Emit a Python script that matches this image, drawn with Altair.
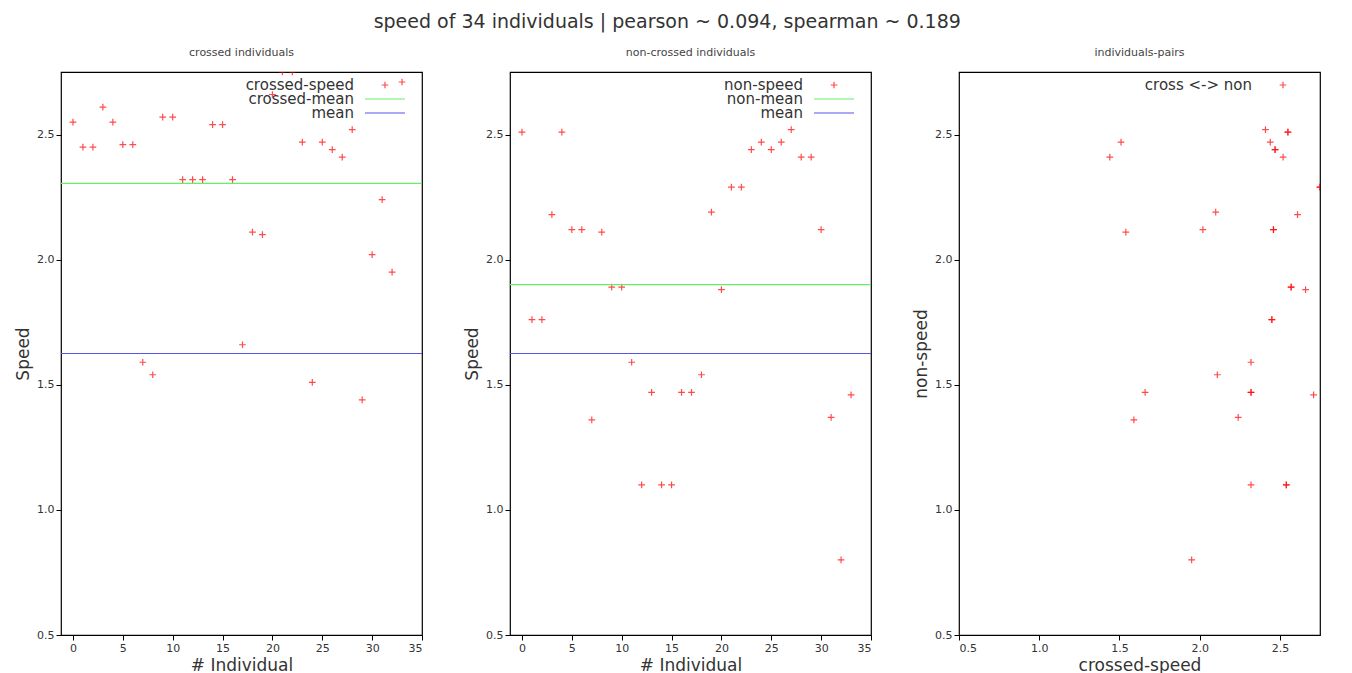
import altair as alt
import pandas as pd

crossed = [2.55,2.45,2.45,2.61,2.55,2.46,2.46,1.59,1.54,2.57,2.57,2.32,2.32,2.32,2.54,2.54,2.32,1.66,2.11,2.10,
           2.66,2.75,2.75,2.47,1.51,2.47,2.44,2.41,2.52,1.44,2.02,2.24,1.95,2.71]
non = [2.51,1.76,1.76,2.18,2.51,2.12,2.12,1.36,2.11,1.89,1.89,1.59,1.10,1.47,1.10,1.10,1.47,1.47,1.54,2.19,
       1.88,2.29,2.29,2.44,2.47,2.44,2.47,2.52,2.41,2.41,2.12,1.37,0.80,1.46]
crossed_mean = 2.305
non_mean = 1.90
overall_mean = 1.625

df = pd.DataFrame({"idx": list(range(len(crossed))), "crossed": crossed, "non": non})
W, H = 361, 563
plus = "M-1,0L1,0M0,-1L0,1"
pt = dict(shape=plus, filled=False, stroke="red", strokeWidth=1.2, size=45, clip=True)
yticks = [0.5, 1, 1.5, 2, 2.5]
ysc = alt.Scale(domain=[0.5, 2.75], nice=False, zero=False)
xsc = alt.Scale(domain=[-1.2, 35], nice=False, zero=False)

def legend(items):
    layers = []
    for i, (label, kind, color) in enumerate(items):
        y = 13 + i * 14
        layers.append(alt.Chart(df.head(1)).mark_text(align="right", baseline="middle", fontSize=15, color="#333", font="DejaVu Sans").encode(
            x=alt.value(W - 68), y=alt.value(y), text=alt.value(label)))
        if kind == "pt":
            layers.append(alt.Chart(df.head(1)).mark_point(**pt).encode(x=alt.value(W - 37), y=alt.value(y)))
        elif kind == "line":
            layers.append(alt.Chart(df.head(1)).mark_rule(color=color, strokeWidth=1.2).encode(
                x=alt.value(W - 57), x2=alt.value(W - 17), y=alt.value(y)))
    return layers

def panel(col, title, meanval, meanlabel, ptlabel):
    base = alt.Chart(df)
    pts = base.mark_point(**pt).encode(
        x=alt.X("idx:Q", scale=xsc, title="# Individual", axis=alt.Axis(values=[0,5,10,15,20,25,30,35])),
        y=alt.Y(f"{col}:Q", scale=ysc, title="Speed", axis=alt.Axis(values=yticks)))
    m1 = alt.Chart(pd.DataFrame({"v": [meanval]})).mark_rule(color="#66ee66", strokeWidth=1.2).encode(y="v:Q")
    m2 = alt.Chart(pd.DataFrame({"v": [overall_mean]})).mark_rule(color="#5555ee", strokeWidth=1.2).encode(y="v:Q")
    lg = legend([(ptlabel, "pt", "red"), (meanlabel, "line", "#66ee66"), ("mean", "line", "#5555ee")])
    return alt.layer(pts, m1, m2, *lg).properties(width=W, height=H, title=title)

p1 = panel("crossed", "crossed individuals", crossed_mean, "crossed-mean", "crossed-speed")
p2 = panel("non", "non-crossed individuals", non_mean, "non-mean", "non-speed")

sc = alt.Scale(domain=[0.5, 2.75], nice=False, zero=False)
p3pts = alt.Chart(df).mark_point(**pt).encode(
    x=alt.X("crossed:Q", scale=sc, title="crossed-speed", axis=alt.Axis(values=yticks)),
    y=alt.Y("non:Q", scale=sc, title="non-speed", axis=alt.Axis(values=yticks)))
p3lg = [alt.Chart(df.head(1)).mark_text(align="right", baseline="middle", fontSize=15, color="#333", font="DejaVu Sans").encode(
            x=alt.value(W - 68), y=alt.value(13), text=alt.value("cross <-> non")),
        alt.Chart(df.head(1)).mark_point(**pt).encode(x=alt.value(W - 37), y=alt.value(13))]
p3 = alt.layer(p3pts, *p3lg).properties(width=W, height=H, title="individuals-pairs")

chart = alt.hconcat(p1, p2, p3, spacing=38).properties(
    title=alt.TitleParams("speed of 34 individuals | pearson ~ 0.094, spearman ~ 0.189", fontSize=19,
                          font="DejaVu Sans", fontWeight="normal", color="#333", anchor="middle")
).configure_view(stroke="black", strokeWidth=1.2).configure_axis(
    grid=False, domain=False, tickColor="black", tickSize=5, labelFont="DejaVu Sans", labelFontSize=11,
    labelColor="#333", titleFont="DejaVu Sans", titleFontSize=17, titleFontWeight="normal", titleColor="#333"
).configure_title(font="DejaVu Sans", fontSize=11, fontWeight="normal", color="#444", offset=14)

chart.save("out.html", embed_options={"renderer": "svg", "actions": False})
